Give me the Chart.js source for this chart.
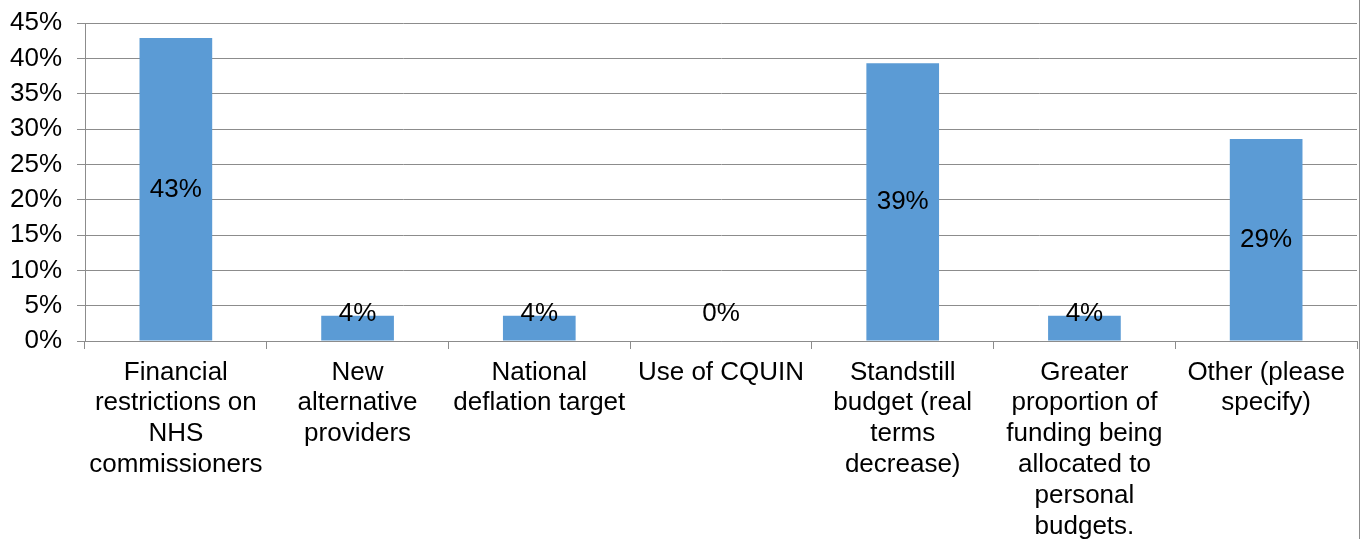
<!DOCTYPE html>
<html>
<head>
<meta charset="utf-8">
<script src="https://cdn.jsdelivr.net/npm/chart.js@4/dist/chart.umd.min.js"></script>
<style>
	html, body { margin: 0; padding: 0; background: #fff; }
	#wrap { width: 1359px; height: 539px; border-right: 1px solid #8c8c8c; }
</style>
</head>
<body>
<div id="wrap"><canvas id="barChart" width="1358" height="539"></canvas></div>
<script>
const categories = [
	['Financial', 'restrictions on', 'NHS', 'commissioners'],
	['New', 'alternative', 'providers'],
	['National', 'deflation target'],
	['Use of CQUIN'],
	['Standstill', 'budget (real', 'terms', 'decrease)'],
	['Greater', 'proportion of', 'funding being', 'allocated to', 'personal', 'budgets.'],
	['Other (please', 'specify)']
];
const shares = [42.86, 3.57, 3.57, 0, 39.29, 3.57, 28.57];
const yTicks = [0, 5, 10, 15, 20, 25, 30, 35, 40, 45];

const FONT = '"Liberation Sans", Arial, sans-serif';
const GRID = '#8c8c8c';

// value labels centred in the bar, kept clear of the axis for short bars
const barLabels = {
	id: 'barLabels',
	afterDatasetsDraw(chart) {
		const ctx = chart.ctx;
		const meta = chart.getDatasetMeta(0);
		const base = chart.scales.y.getPixelForValue(0);
		ctx.save();
		ctx.font = '26px ' + FONT;
		ctx.fillStyle = '#000';
		ctx.textAlign = 'center';
		ctx.textBaseline = 'middle';
		meta.data.forEach((bar, i) => {
			const mid = (bar.y + base) / 2;
			const y = Math.min(mid, base - 27);
			ctx.fillText(Math.round(shares[i]) + '%', bar.x, y);
		});
		ctx.restore();
	}
};

const barChart = new Chart(document.getElementById('barChart').getContext('2d'), {
	type: 'bar',
	data: {
		labels: categories,
		datasets: [{
			data: shares,
			backgroundColor: '#5b9bd5',
			borderWidth: 0,
			categoryPercentage: 1,
			barPercentage: 0.4
		}]
	},
	options: {
		responsive: false,
		animation: false,
		layout: { padding: { top: 0, right: 1, left: 0, bottom: 0 } },
		plugins: { legend: { display: false }, tooltip: { enabled: false } },
		scales: {
			x: {
				offset: true,
				grid: { offset: true, drawOnChartArea: false, color: GRID, tickLength: 8, lineWidth: 1 },
				border: { color: GRID, width: 1 },
				ticks: { color: '#000', font: { family: FONT, size: 26, lineHeight: 1.185 }, padding: 8, maxRotation: 0, autoSkip: false },
				afterFit(scale) { scale.height = 198; }
			},
			y: {
				min: 0,
				max: 45,
				afterBuildTicks(scale) { scale.ticks = yTicks.map(v => ({ value: v })); },
				afterFit(scale) {
					scale.width = 85;
					scale.paddingTop = 23;
					scale.paddingBottom = 0;
				},
				grid: { color: GRID, tickLength: 8, lineWidth: 1 },
				border: { color: GRID, width: 1 },
				ticks: {
					color: '#000',
					font: { family: FONT, size: 26 },
					padding: 15,
					callback: v => v + '%'
				}
			}
		}
	},
	plugins: [barLabels]
});
</script>
</body>
</html>
